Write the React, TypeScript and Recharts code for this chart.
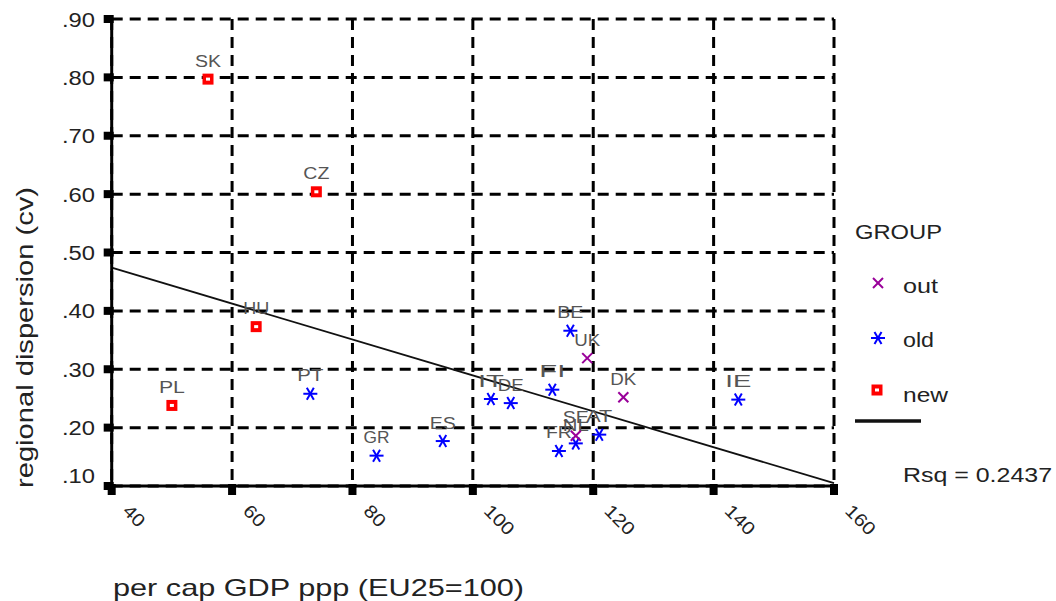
import { ScatterChart, Scatter, XAxis, YAxis, CartesianGrid, ReferenceLine } from "recharts";

// values (per cap GDP ppp, regional dispersion cv)
const newCodes = ["SK", "CZ", "HU", "PL"];
const newGdp = [56, 74, 64, 50];
const newCv = [0.797, 0.604, 0.373, 0.238];

const oldCodes = ["PT", "GR", "ES", "IT", "DE", "FI", "BE", "FR", "NL", "AT", "IE"];
const oldGdp = [73, 84, 95, 103, 106.3, 113.2, 116.2, 114.3, 117.1, 121, 144.1];
const oldCv = [0.258, 0.152, 0.177, 0.249, 0.242, 0.265, 0.366, 0.16, 0.173, 0.188, 0.248];

const outCodes = ["UK", "DK", "SE"];
const outGdp = [119, 125, 117.1];
const outCv = [0.319, 0.252, 0.186];

// fit line end points (Rsq = 0.2437)
const fitGdp = [40, 160];
const fitCv = [0.474, 0.105];

const xTicks = [40, 60, 80, 100, 120, 140, 160];
const yTicks = [0.1, 0.2, 0.3, 0.4, 0.5, 0.6, 0.7, 0.8, 0.9];

const FONT = "'Liberation Sans', Arial, sans-serif";

const toRows = (codes: string[], gdp: number[], cv: number[]) =>
  codes.map((code, i) => ({ code, gdp: gdp[i], cv: cv[i] }));

const newRows = toRows(newCodes, newGdp, newCv);
const oldRows = toRows(oldCodes, oldGdp, oldCv);
const outRows = toRows(outCodes, outGdp, outCv);

const SquareMark = ({ cx, cy }: { cx: number; cy: number }) => (
  <g>
    <rect x={cx - 5.5} y={cy - 5.5} width={11} height={11} fill="#ff0000" />
    <rect x={cx - 2} y={cy - 1.5} width={4} height={3} fill="#fff" />
  </g>
);

const StarMark = ({ cx, cy }: { cx: number; cy: number }) => (
  <g stroke="#0000ff" strokeWidth={2}>
    <line x1={cx - 7} y1={cy} x2={cx + 7} y2={cy} />
    <line x1={cx - 3.5} y1={cy - 6} x2={cx + 3.5} y2={cy + 6} />
    <line x1={cx + 3.5} y1={cy - 6} x2={cx - 3.5} y2={cy + 6} />
  </g>
);

const CrossMark = ({ cx, cy }: { cx: number; cy: number }) => (
  <g stroke="#990099" strokeWidth={2}>
    <line x1={cx - 5} y1={cy - 5} x2={cx + 5} y2={cy + 5} />
    <line x1={cx + 5} y1={cy - 5} x2={cx - 5} y2={cy + 5} />
  </g>
);

const PointLabel = ({ cx, cy, code }: { cx: number; cy: number; code: string }) => (
  <text
    x={cx}
    y={cy - 12.5}
    textAnchor="middle"
    fontFamily={FONT}
    fontSize={16}
    fill="#555"
    textLength={code.length * 13}
    lengthAdjust="spacingAndGlyphs"
  >
    {code}
  </text>
);

const makeShape = (Mark: any) => (props: any) => {
  const { cx, cy, payload } = props;
  if (cx == null || cy == null) return <g />;
  return (
    <g>
      <PointLabel cx={cx} cy={cy} code={payload.code} />
      <Mark cx={cx} cy={cy} />
    </g>
  );
};

const YTick = (props: any) => {
  const { x, y, payload } = props;
  const lift = payload.value === 0.1 ? -11 : 0;
  const label = payload.value.toFixed(2).replace(/^0/, "");
  return (
    <g>
      <rect x={x - 8} y={y - 4} width={10} height={8} fill="#000" />
      <text
        x={x - 16.7}
        y={y + 7.5 + lift}
        textAnchor="end"
        fontFamily={FONT}
        fontSize={19.5}
        fill="#222"
        textLength={33}
        lengthAdjust="spacingAndGlyphs"
      >
        {label}
      </text>
    </g>
  );
};

const XTick = (props: any) => {
  const { x, y, payload } = props;
  const s = String(payload.value);
  return (
    <g>
      <rect x={x - 4} y={y - 2} width={8} height={11} fill="#000" />
      <text
        transform={`translate(${x + 10},${y + 26}) rotate(45)`}
        fontFamily={FONT}
        fontSize={18}
        fill="#222"
        textLength={s.length * 11.5}
        lengthAdjust="spacingAndGlyphs"
      >
        {s}
      </text>
    </g>
  );
};

export default function App() {
  return (
    <div style={{ position: "absolute", left: 0, top: 0, width: 1056, height: 601, background: "#fff" }}>
      <ScatterChart width={1056} height={601} margin={{ top: 19, right: 222, bottom: 0, left: 11.7 }}>
        <CartesianGrid stroke="#000" strokeWidth={3} strokeDasharray="11 7" />
        <XAxis
          type="number"
          dataKey="gdp"
          domain={[40, 160]}
          ticks={xTicks}
          interval={0}
          height={115}
          axisLine={{ stroke: "#000", strokeWidth: 3 }}
          tickLine={false}
          tickSize={0}
          tickMargin={0}
          tick={<XTick />}
        />
        <YAxis
          type="number"
          dataKey="cv"
          domain={[0.1, 0.9]}
          ticks={yTicks}
          interval={0}
          width={100}
          axisLine={{ stroke: "#000", strokeWidth: 3 }}
          tickLine={false}
          tickSize={0}
          tickMargin={0}
          tick={<YTick />}
        />
        <ReferenceLine
          segment={[
            { x: fitGdp[0], y: fitCv[0] },
            { x: fitGdp[1], y: fitCv[1] },
          ]}
          stroke="#111"
          strokeWidth={1.8}
          ifOverflow="visible"
        />
        <Scatter name="new" data={newRows} shape={makeShape(SquareMark)} isAnimationActive={false} />
        <Scatter name="old" data={oldRows} shape={makeShape(StarMark)} isAnimationActive={false} />
        <Scatter name="out" data={outRows} shape={makeShape(CrossMark)} isAnimationActive={false} />
      </ScatterChart>

      <svg
        width={1056}
        height={601}
        style={{ position: "absolute", left: 0, top: 0, pointerEvents: "none" }}
      >
        <text
          x={33}
          y={337.5}
          transform="rotate(-90, 33, 337.5)"
          textAnchor="middle"
          fontFamily={FONT}
          fontSize={24}
          fill="#222"
          textLength={301}
          lengthAdjust="spacingAndGlyphs"
        >
          regional dispersion (cv)
        </text>
        <text
          x={113}
          y={596}
          fontFamily={FONT}
          fontSize={24}
          fill="#222"
          textLength={411}
          lengthAdjust="spacingAndGlyphs"
        >
          per cap GDP ppp (EU25=100)
        </text>

        <text x={855} y={239.3} fontFamily={FONT} fontSize={20} fill="#222" textLength={87} lengthAdjust="spacingAndGlyphs">
          GROUP
        </text>
        <CrossMark cx={878} cy={283} />
        <text x={903} y={293.3} fontFamily={FONT} fontSize={20} fill="#222" textLength={35} lengthAdjust="spacingAndGlyphs">
          out
        </text>
        <StarMark cx={878} cy={338} />
        <text x={903} y={346.7} fontFamily={FONT} fontSize={20} fill="#222" textLength={31} lengthAdjust="spacingAndGlyphs">
          old
        </text>
        <SquareMark cx={877} cy={390} />
        <text x={903} y={401.7} fontFamily={FONT} fontSize={20} fill="#222" textLength={45} lengthAdjust="spacingAndGlyphs">
          new
        </text>
        <line x1={855} y1={421} x2={921} y2={421} stroke="#111" strokeWidth={3.5} />
        <text x={903} y={481.7} fontFamily={FONT} fontSize={21} fill="#222" textLength={149} lengthAdjust="spacingAndGlyphs">
          Rsq = 0.2437
        </text>
      </svg>
    </div>
  );
}
